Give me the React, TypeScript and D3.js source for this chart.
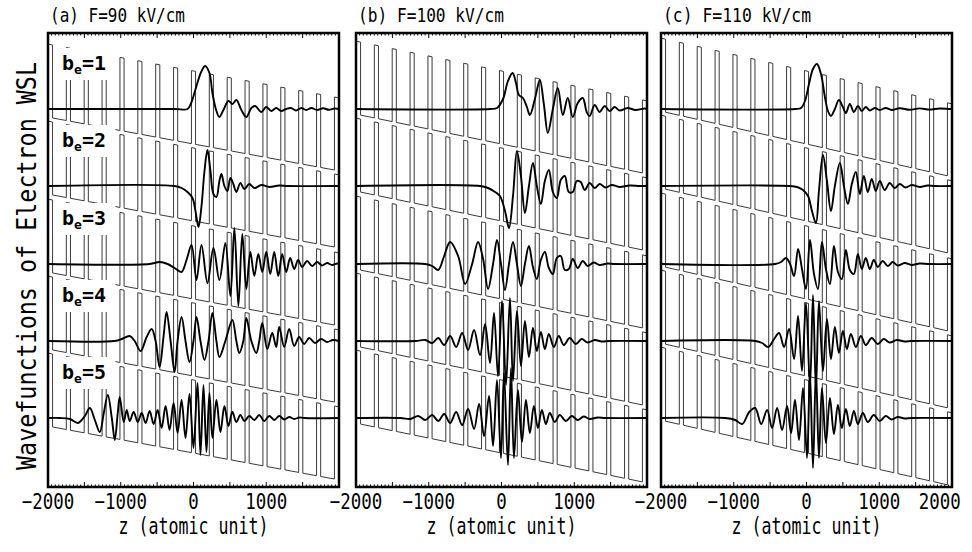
import React from "react";
import * as d3 from "d3";

// panels
const panelTitles = ["(a) F=90 kV/cm", "(b) F=100 kV/cm", "(c) F=110 kV/cm"];
const titleWidths = [135, 146, 148];
const fields = [90, 100, 110]; // kV/cm
const xTickLabels = [
  [-2000, -1000, 0, 1000],
  [-2000, -1000, 0, 1000],
  [-2000, -1000, 0, 1000, 2000],
];
const beNames = ["1", "2", "3", "4", "5"];
const levels = [0, -77, -155, -232, -309]; // energy of each b_e state (arb. units)

// superlattice (atomic units)
const period = 245.7;
const barrierWidth = 56.7;
const barrierHeight = 73;
const wellOffset = 35;
const fieldCoef = 0.0001492;

// wavefunctions: [z (au), psi (arb.)]
const a1 = [[-260, 0], [-82, 0], [-32, 6], [37, 22], [105, 37], [160, 43], [219, 36], [260, 16], [311, -1], [356, -8], [411, -1], [480, 8], [534, 5], [589, 9], [658, -1], [726, -8], [795, 1], [849, 3], [932, -3], [1000, 2], [1069, -2], [1137, 1], [1206, -2], [1274, 0], [1340, 1], [1410, -1.5], [1480, 1], [1550, -1], [1620, 1], [1700, -1], [1780, 0.8], [1860, -0.8], [1940, 0.5]];
const a2 = [[-260, 0], [-164, -2], [-82, -6], [-14, -12], [27, -25], [69, -41], [110, -20], [151, 15], [192, 36], [233, 15], [274, -8], [315, -11], [356, 5], [384, 12], [425, 0], [466, -5], [507, 8], [548, 2], [589, -6], [644, 3], [699, -3], [767, 2], [836, -2], [932, 1], [1041, -1], [1178, 0.5], [1300, 0]];
const a3 = [[-603, 0], [-466, 2], [-356, 0], [-260, -4], [-164, -8], [-96, 4], [-27, 19], [41, -16], [110, 19], [192, -19], [274, 16], [356, -16], [438, 21], [507, -32], [562, 36], [617, -42], [671, 30], [726, -25], [781, 12], [836, -12], [891, 10], [945, -8], [1000, 12], [1055, -10], [1110, 12], [1165, -12], [1219, 10], [1274, -8], [1329, 6], [1384, -5], [1439, 4], [1493, -3], [1562, 3], [1630, -2], [1699, 2], [1767, -1.5], [1836, 1], [1904, -1], [1973, 0.5]];
const a4 = [[-1082, 0], [-986, 2], [-877, 5], [-808, 0], [-726, -10], [-644, 4], [-575, 12], [-521, 0], [-466, -26], [-411, 5], [-370, 29], [-315, 0], [-260, -31], [-219, 0], [-164, 24], [-110, 0], [-55, -21], [0, 0], [41, 24], [96, 0], [151, -19], [206, 0], [260, 28], [315, 0], [356, -16], [438, 0], [534, 21], [589, 0], [630, -12], [685, 0], [726, 23], [795, 0], [863, -12], [904, 0], [945, 18], [1014, -8], [1082, 8], [1137, -6], [1178, 14], [1247, -6], [1315, 12], [1384, -5], [1452, 4], [1521, -3], [1589, 3], [1671, -2], [1754, 2], [1836, -1], [1918, 1]];
const a5 = [[-1836, 0], [-1699, -1], [-1589, -5], [-1493, 2], [-1425, 10], [-1356, -2], [-1288, -14], [-1233, 5], [-1178, 23], [-1123, 0], [-1082, -22], [-1041, 5], [-1014, 21], [-959, -4], [-918, 8], [-877, -3], [-822, 6], [-767, -4], [-712, 5], [-658, -5], [-603, 7], [-548, -6], [-493, 8], [-438, -10], [-384, 12], [-329, -12], [-274, 15], [-219, -15], [-164, 18], [-110, -20], [-55, 24], [0, -30], [55, 35], [96, -37], [137, 33], [178, -34], [219, 25], [260, -20], [315, 18], [370, -14], [425, 12], [480, -8], [534, 6], [589, -4], [644, 3], [699, -3], [767, 2], [836, -2], [904, 3], [973, -3], [1041, 2], [1110, -2], [1178, 2], [1247, -1.5], [1315, 1], [1384, -1], [1452, 0.5], [1521, 0]];

const b1 = [[-158, 0], [-62, 1], [21, 10], [89, 28], [153, 36], [199, 26], [240, 14], [295, 11], [349, 2], [390, -6], [459, 10], [527, 29], [582, 5], [637, -24], [706, 0], [774, 21], [843, -6], [911, 11], [980, -8], [1048, 6], [1117, 11], [1171, -3], [1212, -7], [1281, 4], [1349, -3], [1418, 3], [1486, -2], [1555, 2], [1623, -1.5], [1733, 1], [1843, -1], [1966, 0.5]];
const b2 = [[-295, 0], [-185, -2], [-89, -6], [-21, -10], [48, -25], [103, -42], [158, -10], [212, 35], [267, 10], [322, -27], [377, 0], [432, 23], [486, 0], [541, -18], [596, 5], [651, 16], [706, -6], [760, -12], [815, 6], [870, 10], [925, -6], [980, -6], [1034, 5], [1089, 4], [1144, -4], [1212, 3], [1281, -2], [1349, 2], [1432, -1.5], [1514, 1], [1623, -1], [1760, 0.5], [1897, 0]];
const b3 = [[-1048, 0], [-952, -2], [-870, -6], [-788, 8], [-706, 22], [-596, 8], [-500, -20], [-404, 0], [-322, 22], [-253, 5], [-185, -25], [-116, 0], [-62, 24], [-7, 0], [48, -26], [103, 0], [158, 22], [212, 0], [267, -22], [322, 0], [377, 18], [432, -3], [486, -15], [541, 4], [596, 12], [651, -4], [706, -10], [760, 6], [815, 8], [870, -6], [925, -5], [980, 5], [1048, -4], [1117, 3], [1185, -2], [1267, 1.5], [1349, -1], [1459, 0.5], [1555, 0]];
const b4 = [[-1185, 0], [-1048, 1], [-952, -2], [-870, 3], [-788, -4], [-706, 5], [-623, -6], [-541, 8], [-459, -9], [-377, 11], [-295, -14], [-226, 17], [-158, -22], [-103, 28], [-48, -35], [7, 40], [62, -44], [116, 43], [158, -40], [212, 30], [267, -25], [322, 20], [377, -16], [432, 13], [486, -10], [541, 9], [596, -8], [651, 7], [719, -6], [788, 5], [856, -4], [938, 3], [1021, -3], [1103, 2], [1185, -1.5], [1281, 1], [1377, -0.5], [1486, 0]];
const b5 = [[-1391, 0], [-1254, -1], [-1144, 2], [-1048, -2], [-952, 3], [-870, -3], [-788, 4], [-706, -5], [-623, 6], [-541, -7], [-459, 9], [-377, -11], [-308, 14], [-240, -18], [-171, 22], [-116, -28], [-62, 38], [-7, -40], [34, 45], [89, -47], [130, 50], [171, -40], [226, 28], [281, -24], [336, 18], [390, -15], [445, 12], [500, -10], [555, 8], [610, -6], [664, 5], [733, -4], [801, 3], [884, -3], [966, 2], [1048, -2], [1130, 1.5], [1212, -1], [1322, 0.5], [1432, 0]];

const c1 = [[-158, 0], [-75, 1], [-21, 8], [34, 25], [89, 40], [144, 45], [199, 35], [253, 12], [295, -2], [336, -7], [390, 0], [445, 9], [500, 2], [541, -4], [596, 5], [651, -3], [706, 3], [760, -2], [815, 2], [870, -1.5], [938, 1], [1007, -1], [1089, 1], [1171, -1], [1281, 0.8], [1418, -0.8], [1555, 0.6], [1692, -0.6], [1829, 0.5], [1966, 0]];
const c2 = [[-226, 0], [-130, -1], [-48, -4], [21, -10], [75, -25], [130, -37], [171, -5], [226, 31], [281, 5], [336, -25], [390, 0], [459, 23], [514, 0], [569, -18], [623, 2], [678, 14], [733, -8], [788, 10], [843, -6], [897, 7], [952, -5], [1007, 5], [1075, -4], [1144, 3], [1212, -2], [1281, 2], [1363, -1.5], [1445, 1], [1555, -1], [1664, 0.5], [1760, 0]];
const c3 = [[-432, 0], [-349, 2], [-281, 6], [-226, 0], [-171, -12], [-116, 15], [-62, -5], [-7, -25], [48, 24], [103, -10], [158, -25], [212, 22], [267, -5], [322, -20], [377, 18], [432, -8], [486, -15], [541, 14], [596, -6], [651, -10], [706, 10], [760, -5], [815, 6], [870, -5], [925, 4], [980, -3], [1048, 3], [1117, -2], [1185, 2], [1253, -1.5], [1349, 1], [1445, -1], [1555, 0.5], [1692, 0]];
const c4 = [[-706, 0], [-610, -2], [-527, -6], [-445, 2], [-377, 8], [-308, -6], [-240, 12], [-171, -18], [-116, 25], [-62, -30], [-7, 38], [48, -46], [89, 46], [130, -49], [171, 40], [226, -30], [281, 22], [336, -18], [390, 14], [445, -12], [500, 10], [555, -8], [610, 7], [678, -6], [747, 5], [815, -4], [897, 3], [980, -3], [1062, 2], [1144, -1.5], [1240, 1], [1349, -0.5], [1445, 0]];
const c5 = [[-1117, 0], [-980, -2], [-884, -6], [-788, 6], [-706, 10], [-623, -6], [-541, 8], [-473, -10], [-404, 10], [-336, -12], [-267, 12], [-212, -15], [-158, 18], [-103, -22], [-48, 30], [7, -40], [48, 45], [89, -50], [130, 48], [171, -40], [212, 30], [267, -25], [322, 20], [377, -16], [432, 13], [486, -10], [541, 9], [596, -8], [651, 7], [706, -6], [774, 5], [843, -4], [925, 3], [1007, -3], [1089, 2], [1171, -1.5], [1253, 1], [1349, -0.5], [1445, 0]];

const waves = [
  [a1, a2, a3, a4, a5],
  [b1, b2, b3, b4, b5],
  [c1, c2, c3, c4, c5],
];

const panelLeft = [48, 356, 661];
const panelWidth = 291;
const plotTop = 33;
const plotBottom = 487;
const mono = "'DejaVu Sans Mono', monospace";
const tickFont = 21;

const barrierCenters = d3.range(-8, 9).map((n) => n * period);

function Panel({ idx }: { idx: number }) {
  const x0 = panelLeft[idx];
  const F = fields[idx];
  const x = d3.scaleLinear().domain([-2000, 2000]).range([x0, x0 + panelWidth]);
  const y = d3.scaleLinear().domain([-378, 76]).range([plotBottom, plotTop]);
  const line = d3
    .line<number[]>()
    .x((d) => x(d[0]))
    .y((d) => y(d[1]));
  const smooth = d3
    .line<number[]>()
    .x((d) => x(d[0]))
    .y((d) => y(d[1]))
    .curve(d3.curveCatmullRom.alpha(0.5));

  const potential = (lvl: number) => {
    const bottom = (z: number) => lvl - wellOffset - fieldCoef * F * z;
    const pts: number[][] = [[-2000, bottom(-2000)]];
    barrierCenters.forEach((c) => {
      const l = c - barrierWidth / 2;
      const r = c + barrierWidth / 2;
      pts.push([l, bottom(l)], [l, bottom(l) + barrierHeight], [r, bottom(r) + barrierHeight], [r, bottom(r)]);
    });
    pts.push([2000, bottom(2000)]);
    return line(pts);
  };

  const clipId = `clip${idx}`;
  const minor = d3.range(-2000, 2001, 50);
  const cx = x0 + panelWidth / 2;

  return (
    <g>
      <defs>
        <clipPath id={clipId}>
          <rect x={x0} y={plotTop} width={panelWidth} height={plotBottom - plotTop} />
        </clipPath>
      </defs>
      <g clipPath={`url(#${clipId})`}>
        {levels.map((lvl, k) => (
          <path key={k} d={potential(lvl) || ""} fill="none" stroke="#3a3a3a" strokeWidth={1} />
        ))}
        {idx === 0 &&
          levels.map((lvl, k) => (
            <g key={"lab" + k}>
              <rect x={53.5} y={y(lvl) - 61} width={62} height={32} fill="#fff" />
              <text x={62} y={y(lvl) - 39} fontFamily={mono} fontWeight="bold" fontSize={20} fill="#000">
                b
                <tspan fontSize={13} dy={4}>e</tspan>
                <tspan dy={-4}>={beNames[k]}</tspan>
              </text>
            </g>
          ))}
        {waves[idx].map((w, k) => (
          <path
            key={"w" + k}
            d={smooth([[-2000, 0], ...w, [2000, 0]].map((d) => [d[0], d[1] + levels[k]])) || ""}
            fill="none"
            stroke="#000"
            strokeWidth={1.9}
            strokeLinejoin="round"
          />
        ))}
      </g>
      {minor.map((v) => {
        const len = v % 500 === 0 ? 5 : 2.5;
        return (
          <g key={"t" + v}>
            <line x1={x(v)} x2={x(v)} y1={plotTop} y2={plotTop + len} stroke="#000" strokeWidth={1} />
            <line x1={x(v)} x2={x(v)} y1={plotBottom} y2={plotBottom - len} stroke="#000" strokeWidth={1} />
          </g>
        );
      })}
      <rect x={x0} y={plotTop} width={panelWidth} height={plotBottom - plotTop} fill="none" stroke="#000" strokeWidth={2.5} />
      {xTickLabels[idx].map((v) => {
        const label = v < 0 ? "\u2212" + Math.abs(v) : String(v);
        const w = label.length * 10.5;
        const natural = label.length * 0.61 * tickFont;
        const left = Math.min(x(v) - w / 2, 970 - natural);
        return (
          <text
            key={"l" + v}
            x={left}
            y={509}
            fontFamily={mono}
            fontSize={tickFont}
            textLength={w}
            lengthAdjust="spacingAndGlyphs"
            fill="#000"
          >
            {label}
          </text>
        );
      })}
      <text x={cx - 75} y={534} fontFamily={mono} fontSize={23} textLength={150} lengthAdjust="spacingAndGlyphs" fill="#000">
        z (atomic unit)
      </text>
      <text x={x0 + 2} y={22} fontFamily={mono} fontSize={20} textLength={titleWidths[idx]} lengthAdjust="spacingAndGlyphs" fill="#000">
        {panelTitles[idx]}
      </text>
    </g>
  );
}

export default function App() {
  return (
    <svg width={972} height={552} style={{ position: "absolute", left: 0, top: 0, background: "#fff" }}>
      <rect width={972} height={552} fill="#fff" />
      {[0, 1, 2].map((i) => (
        <Panel key={i} idx={i} />
      ))}
      <text
        transform="translate(36,470) rotate(-90)"
        fontFamily={mono}
        fontSize={27}
        textLength={408}
        lengthAdjust="spacingAndGlyphs"
        fill="#000"
      >
        Wavefunctions of Electron WSL
      </text>
    </svg>
  );
}
